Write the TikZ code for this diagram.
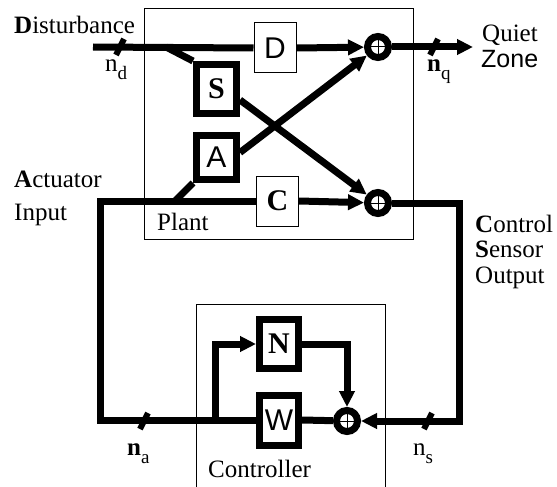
\documentclass[tikz,border=0pt]{standalone}
\usepackage{fontspec}
\setmainfont{Liberation Serif}
\newfontfamily\sansf{Liberation Sans}
\usetikzlibrary{arrows.meta}
\newcommand{\lowidx}[1]{\raisebox{-8pt}{\fontsize{19}{19}\selectfont #1}}
\newcommand{\bigtxt}{\fontsize{25}{28}\selectfont}
\newcommand{\boxtxt}{\fontsize{30}{32}\selectfont}

\begin{document}
\begin{tikzpicture}[x=1pt, y=-1pt,
  every node/.style={font=\bigtxt, inner sep=0pt},
  thinblk/.style={draw, line width=1pt, minimum width=42pt, minimum height=50pt, font=\boxtxt},
  thickblk/.style={draw, line width=7pt, minimum width=40pt, font=\boxtxt},
  sumnode/.style={circle, draw, line width=7pt, minimum size=21pt},
  sig/.style={line width=7pt},
  arr/.style={sig, -{Triangle[length=16pt,width=15pt]}},
  tickmark/.style={line width=6pt}]
  \useasboundingbox (0,0) rectangle (557,487);
  % --- plant and controller frames ---
  \draw[line width=1pt] (144,9) rectangle (413,239);
  \draw[line width=1pt] (196,487) |- (385,304) -- (385,487);
  % --- plant blocks ---
  \node[thinblk, font=\boxtxt\sansf] (D) at (275,48) {D};
  \node[thickblk, minimum height=49pt] (S) at (216.5,89) {\textbf{S}};
  \node[thickblk, minimum height=44pt, font=\boxtxt\sansf] (A) at (216.5,157.5) {A};
  \node[thinblk] (C) at (277.5,201) {\textbf{C}};
  \node[sumnode] (s1) at (378,47) {};
  \node[sumnode] (s2) at (378,203) {};
  % --- controller blocks ---
  \node[thickblk, minimum width=39pt, minimum height=49pt] (N) at (279,344) {\textbf{N}};
  \node[thickblk, minimum width=39pt, minimum height=50pt, font=\boxtxt\sansf] (W) at (279,420) {W};
  \node[sumnode] (s3) at (347,421) {};
  % --- branch points and line ends ---
  \coordinate (din) at (93,47);
  \coordinate (sbr) at (166,47);
  \coordinate (qz)  at (473,47);
  \coordinate (abr) at (175,201);
  \coordinate (lt)  at (100,201);
  \coordinate (rt)  at (459,203);
  \coordinate (br)  at (215,421);
  % --- signal lines ---
  \draw[sig] (din) -- (D.west);
  \draw[sig] (sbr) -- (S.north west);
  \draw[arr] (D.east) -- (s1);
  \draw[arr] (s1) -- (qz);
  \draw[arr] (A.12) -- (s1);
  \draw[arr] (S.-25) -- (s2);
  \draw[sig] (A.south west) -- (abr);
  \draw[sig] (C.west) -- (lt) |- (W.west);
  \draw[arr] (C.east) -- (s2);
  \draw[arr] (s2) -- (rt) |- (s3);
  \draw[arr] (br) |- (N.west);
  \draw[arr] (N.east) -| (s3);
  \draw[sig] (W.east) -- (s3);
  % plus signs in the summing junctions
  \foreach \s in {s1,s2,s3}{
    \draw[line width=1pt] ([xshift=-7pt]\s.center) -- ([xshift=7pt]\s.center)
                          ([yshift=-7pt]\s.center) -- ([yshift=7pt]\s.center);
  }
  % --- noise ticks ---
  \coordinate (nd) at (120,47);
  \coordinate (nq) at (434,47);
  \coordinate (na) at (144,421);
  \coordinate (ns) at (428,421);
  \foreach \t in {nd,nq,na,ns}{
    \draw[tickmark] ([shift={(-4pt,-8pt)}]\t) -- ([shift={(4pt,8pt)}]\t);
  }
  \node[anchor=base west] (lnd) at (105,72)  {n\lowidx{d}};
  \node[anchor=base west] (lnq) at (427,72)  {\textbf{n}\lowidx{q}};
  \node[anchor=base west] (lna) at (127,455) {\textbf{n}\lowidx{a}};
  \node[anchor=base west] (lns) at (413,455) {n\lowidx{s}};
  % --- labels ---
  \node[anchor=base west] (dist)  at (14,34)   {\textbf{D}isturbance};
  \node[anchor=base west] (quiet) at (482,42)  {Quiet};
  \node[anchor=base west, font=\bigtxt\sansf] (zone) at (481,68) {Zone};
  \node[anchor=base west] (act)   at (14,187)  {\textbf{A}ctuator};
  \node[anchor=base west] (inp)   at (14,220)  {Input};
  \node[anchor=base west] (plant) at (157,230) {Plant};
  \node[anchor=base west] (ctl)   at (475,232) {\textbf{C}ontrol};
  \node[anchor=base west] (sen)   at (475,257) {\textbf{S}ensor};
  \node[anchor=base west] (outp)  at (475,283) {Output};
  \node[anchor=base west] (ctrl)  at (208,477) {Controller};
\end{tikzpicture}
\end{document}
